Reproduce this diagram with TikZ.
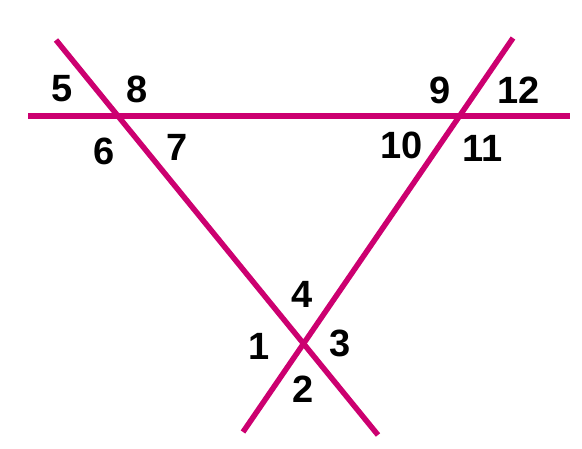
\documentclass[tikz,border=0pt]{standalone}
\usepackage{fontspec}
\setmainfont{Liberation Sans}
\definecolor{mag}{HTML}{CC0070}
\begin{document}
\begin{tikzpicture}[x=1pt,y=-1pt,
  lineseg/.style={draw=mag,line width=5.5pt},
  lbl/.style={font=\fontsize{38}{38}\selectfont\bfseries,inner sep=0pt,anchor=center}]
\useasboundingbox (0,0) rectangle (582,449);
\coordinate (hL) at (28,116);
\coordinate (hR) at (570,116);
\coordinate (aT) at (56,40);
\coordinate (aB) at (378,435);
\coordinate (bT) at (513,38);
\coordinate (bB) at (243,432);
\draw[lineseg] (hL) -- (hR);
\draw[lineseg] (aT) -- (aB);
\draw[lineseg] (bT) -- (bB);
\node[lbl] (n5) at (61.7,89) {5};
\node[lbl] (n8) at (136.7,89) {8};
\node[lbl] (n6) at (104,151) {6};
\node[lbl] (n7) at (176.7,147) {7};
\node[lbl] (n9) at (440,90) {9};
\node[lbl] (n12) at (519,90) {12};
\node[lbl] (n10) at (401.7,145) {10};
\node[lbl] (n11) at (483,148) {11};
\node[lbl] (n4) at (301.7,294) {4};
\node[lbl] (n1) at (259,346) {1};
\node[lbl] (n3) at (340,343) {3};
\node[lbl] (n2) at (303.3,389) {2};
\end{tikzpicture}
\end{document}
